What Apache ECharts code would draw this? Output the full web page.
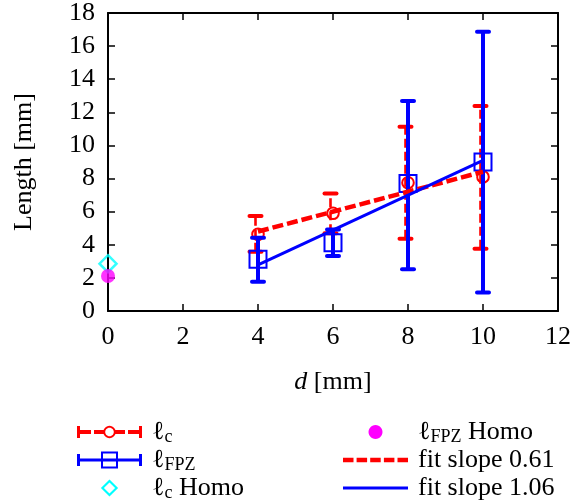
<!DOCTYPE html>
<html>
<head>
<meta charset="utf-8">
<script src="https://cdn.jsdelivr.net/npm/echarts@6/dist/echarts.min.js"></script>
<style>
  html, body { margin: 0; padding: 0; background: #fff; }
  #chart { width: 582px; height: 504px; }
</style>
</head>
<body>
<div id="chart"></div>
<script>
// Notch / separation distance d [mm]
const dValues = [4, 6, 8, 10];

// characteristic length lc: mean with lower / upper error bounds [mm]
const lcMean = [4.63, 5.9, 7.75, 8.1];
const lcLow  = [3.58, 4.7, 4.37, 3.76];
const lcHigh = [5.74, 7.1, 11.13, 12.38];

// fracture process zone length lFPZ: mean with lower / upper error bounds [mm]
const fpzMean = [3.12, 4.12, 7.7, 9.0];
const fpzLow  = [1.77, 3.32, 2.52, 1.11];
const fpzHigh = [4.43, 4.92, 12.68, 16.87];

// homogeneous material reference values, plotted at d = 0
const homoD   = [0];
const lcHomo  = [2.86];
const fpzHomo = [2.11];

// linear fits, evaluated at the end points of the d range
const fitD   = [4, 10];
const fitLc  = [4.8, 8.41];
const fitFpz = [2.78, 9.1];

// axis ranges and tick steps
const xRange = [0, 12], xStep = 2;
const yRange = [0, 18], yStep = 2;

const RED = '#ff0000', BLUE = '#0000ff', CYAN = '#00ffff', MAGENTA = '#ff00ff';
const FONT = 'Liberation Serif';

// ---- legend icon paths (filled shapes inside a 70 x 18 box) ----
function rect(x, y, w, h) {
  return `M${x} ${y}L${x + w} ${y}L${x + w} ${y + h}L${x} ${y + h}Z`;
}
function rectHole(x, y, w, h) {
  return `M${x} ${y}L${x} ${y + h}L${x + w} ${y + h}L${x + w} ${y}Z`;
}
function poly(cx, cy, r, n, reverse) {
  let s = '';
  for (let k = 0; k < n; k++) {
    const a = (reverse ? -1 : 1) * 2 * Math.PI * k / n;
    s += (k ? 'L' : 'M') + (cx + r * Math.cos(a)).toFixed(2) + ' ' + (cy + r * Math.sin(a)).toFixed(2);
  }
  return s + 'Z';
}
function diamond(cx, cy, r, reverse) {
  const p = reverse
    ? [[cx, cy - r], [cx - r, cy], [cx, cy + r], [cx + r, cy]]
    : [[cx, cy - r], [cx + r, cy], [cx, cy + r], [cx - r, cy]];
  return 'M' + p.map(q => q.join(' ')).join('L') + 'Z';
}
// tiny corner anchors so every icon spans the same box
const ANCHORS = 'M0 0L0.01 0L0.01 0.01Z M70 18L69.99 18L69.99 17.99Z';
const ICONS = {
  lc: 'path://' + ANCHORS + rect(0, 3, 3, 12) + rect(62, 3, 3, 12) +
      rect(0, 7, 14, 4) + rect(17, 7, 10, 4) + rect(38, 7, 10, 4) + rect(51, 7, 14, 4) +
      poly(32.5, 9, 6.2, 28, false) + poly(32.5, 9, 4.3, 28, true),
  fpz: 'path://' + ANCHORS + rect(0, 3, 3, 12) + rect(62, 3, 3, 12) + rect(0, 7.5, 65, 3) +
       rect(24, 0.5, 17, 17) + rectHole(26, 2.5, 13, 13),
  lcHomo: 'path://' + ANCHORS + diamond(32.5, 9, 8.6, false) + diamond(32.5, 9, 5.6, true),
  fpzHomo: 'path://' + ANCHORS + poly(32.5, 9, 7, 28, false),
  fitLc: 'path://' + ANCHORS + rect(0, 6.8, 10.5, 4.4) + rect(13.6, 6.8, 10.5, 4.4) + rect(27.2, 6.8, 10.5, 4.4) +
         rect(40.9, 6.8, 10.5, 4.4) + rect(54.5, 6.8, 10.5, 4.4),
  fitFpz: 'path://' + ANCHORS + rect(0, 7.5, 65, 3)
};

// ---- error bar + marker renderer for the custom series ----
function errorBars(color, dashed, marker, offset) {
  return function (params, api) {
    const x = api.value(0);
    const c = api.coord([x, api.value(1)]);
    const lo = api.coord([x, api.value(2)]);
    const hi = api.coord([x, api.value(3)]);
    const bx = c[0] + offset;
    const cap = 6;
    const children = [
      { type: 'line', shape: { x1: bx, y1: lo[1], x2: bx, y2: hi[1] },
        style: { stroke: color, lineWidth: dashed ? 2.6 : 4, lineDash: dashed ? [9, 4] : null, fill: 'none' } },
      { type: 'line', shape: { x1: bx - cap, y1: lo[1], x2: bx + cap, y2: lo[1] },
        style: { stroke: color, lineWidth: 4, lineCap: 'round', fill: 'none' } },
      { type: 'line', shape: { x1: bx - cap, y1: hi[1], x2: bx + cap, y2: hi[1] },
        style: { stroke: color, lineWidth: 4, lineCap: 'round', fill: 'none' } }
    ];
    if (marker === 'circle') {
      children.push({ type: 'circle', shape: { cx: c[0], cy: c[1], r: 5.8 },
        style: { fill: 'none', stroke: color, lineWidth: 2 } });
    } else {
      children.push({ type: 'rect', shape: { x: c[0] - 8.5, y: c[1] - 8.5, width: 17, height: 17 },
        style: { fill: 'none', stroke: color, lineWidth: 2 } });
    }
    return { type: 'group', children };
  };
}

const lcData  = dValues.map((d, i) => [d, lcMean[i], lcLow[i], lcHigh[i]]);
const fpzData = dValues.map((d, i) => [d, fpzMean[i], fpzLow[i], fpzHigh[i]]);

const axisLineStyle = { color: '#000', width: 2 };
const tickStyle = { show: true, inside: true, length: 7, lineStyle: { color: '#000', width: 1.5 } };
const labelFont = { fontFamily: FONT, fontSize: 26, color: '#000' };

function legendText(name) {
  return name.replace(/^ℓ(c|FPZ)/, (m, s) => 'ℓ{s|' + s + '}');
}
const legendTextStyle = {
  fontFamily: FONT, fontSize: 26, color: '#000', lineHeight: 28,
  rich: { s: { fontFamily: FONT, fontSize: 18, color: '#000', lineHeight: 18, padding: [10, 0, 0, 0] } }
};
function legendItem(name, icon, color) {
  return { name, icon, itemStyle: { color, borderWidth: 0, opacity: 1 } };
}

const chart = echarts.init(document.getElementById('chart'), null, { renderer: 'canvas' });
chart.setOption({
  animation: false,
  backgroundColor: '#fff',
  grid: { left: 108, right: 24, top: 13, bottom: 193, show: false },
  xAxis: [
    {
      type: 'value', position: 'bottom', min: xRange[0], max: xRange[1], interval: xStep,
      axisLine: { show: true, lineStyle: axisLineStyle, onZero: false },
      axisTick: tickStyle, splitLine: { show: false },
      axisLabel: Object.assign({ margin: 13 }, labelFont),
      name: '{i|d} [mm]', nameLocation: 'middle', nameGap: 58,
      nameTextStyle: Object.assign({ rich: { i: { fontFamily: FONT, fontSize: 26, fontStyle: 'italic', color: '#000' } } }, labelFont)
    },
    {
      type: 'value', position: 'top', min: xRange[0], max: xRange[1], interval: xStep,
      axisLine: { show: true, lineStyle: axisLineStyle, onZero: false },
      axisTick: tickStyle, splitLine: { show: false }, axisLabel: { show: false }
    }
  ],
  yAxis: [
    {
      type: 'value', position: 'left', min: yRange[0], max: yRange[1], interval: yStep,
      axisLine: { show: true, lineStyle: axisLineStyle, onZero: false },
      axisTick: tickStyle, splitLine: { show: false },
      axisLabel: Object.assign({ margin: 13 }, labelFont),
      name: 'Length [mm]', nameLocation: 'middle', nameGap: 71,
      nameTextStyle: labelFont
    },
    {
      type: 'value', position: 'right', min: yRange[0], max: yRange[1], interval: yStep,
      axisLine: { show: true, lineStyle: axisLineStyle, onZero: false },
      axisTick: tickStyle, splitLine: { show: false }, axisLabel: { show: false }
    }
  ],
  legend: [
    {
      orient: 'vertical', left: 77, top: 418, itemGap: 0, itemWidth: 70, itemHeight: 18,
      selectedMode: false, symbolKeepAspect: true, padding: 0,
      formatter: legendText, textStyle: legendTextStyle,
      data: [
        legendItem('ℓc', ICONS.lc, RED),
        legendItem('ℓFPZ', ICONS.fpz, BLUE),
        legendItem('ℓc Homo', ICONS.lcHomo, CYAN)
      ]
    },
    {
      orient: 'vertical', left: 343, top: 418, itemGap: 0, itemWidth: 70, itemHeight: 18,
      selectedMode: false, symbolKeepAspect: true, padding: 0,
      formatter: legendText, textStyle: legendTextStyle,
      data: [
        legendItem('ℓFPZ Homo', ICONS.fpzHomo, MAGENTA),
        legendItem('fit slope 0.61', ICONS.fitLc, RED),
        legendItem('fit slope 1.06', ICONS.fitFpz, BLUE)
      ]
    }
  ],
  series: [
    {
      name: 'ℓc', type: 'custom', xAxisIndex: 0, yAxisIndex: 0,
      renderItem: errorBars(RED, true, 'circle', -2.5),
      encode: { x: 0, y: [1, 2, 3] }, data: lcData, itemStyle: { color: RED }, z: 2
    },
    {
      name: 'ℓFPZ', type: 'custom', xAxisIndex: 0, yAxisIndex: 0,
      renderItem: errorBars(BLUE, false, 'square', 0),
      encode: { x: 0, y: [1, 2, 3] }, data: fpzData, itemStyle: { color: BLUE }, z: 3
    },
    {
      name: 'ℓc Homo', type: 'scatter', clip: false,
      symbol: 'diamond', symbolSize: [17, 17],
      itemStyle: { color: 'rgba(0,0,0,0)', borderColor: CYAN, borderWidth: 2.5 },
      data: homoD.map((d, i) => [d, lcHomo[i]]), z: 4
    },
    {
      name: 'ℓFPZ Homo', type: 'scatter', clip: false,
      symbol: 'circle', symbolSize: 14,
      itemStyle: { color: MAGENTA },
      data: homoD.map((d, i) => [d, fpzHomo[i]]), z: 5
    },
    {
      name: 'fit slope 0.61', type: 'line', symbol: 'none',
      lineStyle: { color: RED, width: 4.5, type: [11, 4] }, itemStyle: { color: RED },
      data: fitD.map((d, i) => [d, fitLc[i]]), z: 6
    },
    {
      name: 'fit slope 1.06', type: 'line', symbol: 'none',
      lineStyle: { color: BLUE, width: 3, type: 'solid' }, itemStyle: { color: BLUE },
      data: fitD.map((d, i) => [d, fitFpz[i]]), z: 7
    }
  ]
});
</script>
</body>
</html>
